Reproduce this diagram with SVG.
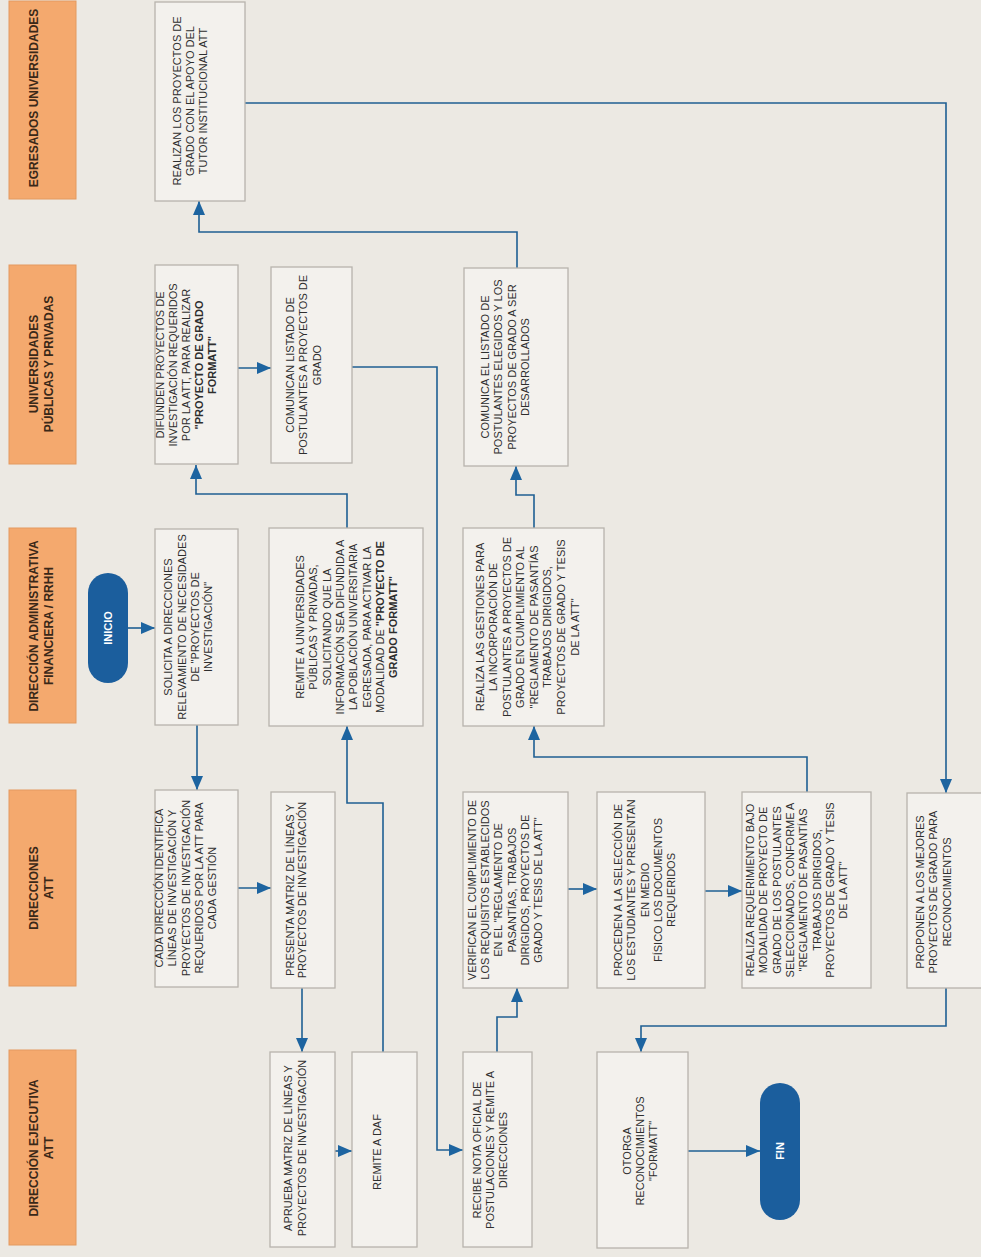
<svg xmlns="http://www.w3.org/2000/svg" width="981" height="1257" viewBox="0 0 981 1257">
<style>
.bg{fill:#ece9e3}
.box{fill:#f3f1ed;stroke:#b7b3ad;stroke-width:1.3}
.hdr{fill:#f4a96e;stroke:#e39a60;stroke-width:1}
.pill{fill:#1b5e9d}
.t{font-family:"Liberation Sans",Arial,sans-serif;font-size:11px;fill:#2e2e2e;text-anchor:middle}
.b{font-weight:bold}
.h{font-family:"Liberation Sans",Arial,sans-serif;font-size:12px;font-weight:bold;fill:#3a2818;text-anchor:middle}
.p{font-family:"Liberation Sans",Arial,sans-serif;font-size:11px;font-weight:bold;fill:#ffffff;text-anchor:middle}
.conn{fill:none;stroke:#1f5f93;stroke-width:1.6}
</style>
<defs>
<marker id="ah" markerWidth="14" markerHeight="12" refX="14" refY="6" orient="auto" markerUnits="userSpaceOnUse">
<path d="M0,0 L14,6 L0,12 z" fill="#1d64a0"/>
</marker>
</defs>
<rect class="bg" x="0" y="0" width="981" height="1257"/>

<g id="lanes">
<g id="lane-egresados"><rect class="hdr" x="9" y="1" width="67" height="198"/>
<text class="h" transform="translate(42,98) rotate(-90)"><tspan x="0" y="-4">EGRESADOS UNIVERSIDADES</tspan></text></g>
<g id="lane-universidades"><rect class="hdr" x="9" y="265" width="67" height="199"/>
<text class="h" transform="translate(42,364) rotate(-90)"><tspan x="0" y="-4">UNIVERSIDADES</tspan><tspan x="0" y="11">PÚBLICAS Y PRIVADAS</tspan></text></g>
<g id="lane-daf"><rect class="hdr" x="9" y="528" width="67" height="195"/>
<text class="h" transform="translate(42,626) rotate(-90)"><tspan x="0" y="-4">DIRECCIÓN ADMINISTRATIVA</tspan><tspan x="0" y="11">FINANCIERA / RRHH</tspan></text></g>
<g id="lane-direcciones"><rect class="hdr" x="9" y="790" width="67" height="196"/>
<text class="h" transform="translate(42,888) rotate(-90)"><tspan x="0" y="-4">DIRECCIONES</tspan><tspan x="0" y="11">ATT</tspan></text></g>
<g id="lane-ejecutiva"><rect class="hdr" x="9" y="1050" width="67" height="195"/>
<text class="h" transform="translate(42,1148) rotate(-90)"><tspan x="0" y="-4">DIRECCIÓN EJECUTIVA</tspan><tspan x="0" y="11">ATT</tspan></text></g>
</g>

<g id="connectors">
<path class="conn" d="M128,628 H155" marker-end="url(#ah)"/>
<path class="conn" d="M197,725 V790" marker-end="url(#ah)"/>
<path class="conn" d="M238,888 H271" marker-end="url(#ah)"/>
<path class="conn" d="M302,988 V1052" marker-end="url(#ah)"/>
<path class="conn" d="M335,1151 H352" marker-end="url(#ah)"/>
<path class="conn" d="M383,1052 V803 H347 V726" marker-end="url(#ah)"/>
<path class="conn" d="M347,528 V494 H196 V465" marker-end="url(#ah)"/>
<path class="conn" d="M238,368 H271" marker-end="url(#ah)"/>
<path class="conn" d="M352,367 H437 V1150 H463" marker-end="url(#ah)"/>
<path class="conn" d="M497,1052 V1017 H517 V988" marker-end="url(#ah)"/>
<path class="conn" d="M568,889 H597" marker-end="url(#ah)"/>
<path class="conn" d="M705,891 H742" marker-end="url(#ah)"/>
<path class="conn" d="M807,792 V757 H534 V726" marker-end="url(#ah)"/>
<path class="conn" d="M534,528 V495 H516 V466" marker-end="url(#ah)"/>
<path class="conn" d="M517,268 V232 H199 V201" marker-end="url(#ah)"/>
<path class="conn" d="M245,103 H946 V793" marker-end="url(#ah)"/>
<path class="conn" d="M946,988 V1026 H641 V1052" marker-end="url(#ah)"/>
<path class="conn" d="M688,1151 H760" marker-end="url(#ah)"/>
</g>

<g id="inicio"><rect class="pill" x="88" y="573" width="40" height="110" rx="20"/>
<text class="p" transform="translate(108,628) rotate(-90)"><tspan x="0" y="4">INICIO</tspan></text></g>

<g id="fin"><rect class="pill" x="760" y="1083" width="40" height="137" rx="20"/>
<text class="p" transform="translate(780,1151) rotate(-90)"><tspan x="0" y="4">FIN</tspan></text></g>

<g id="n-realizan"><rect class="box" x="155" y="2" width="90" height="199"/>
<text class="t" transform="translate(200,101) rotate(-90)"><tspan x="0" y="-19">REALIZAN LOS PROYECTOS DE</tspan><tspan x="0" y="-6">GRADO CON EL APOYO DEL</tspan><tspan x="0" y="7">TUTOR INSTITUCIONAL ATT</tspan></text></g>

<g id="n-difunden"><rect class="box" x="155" y="265" width="83" height="199"/>
<text class="t" transform="translate(196,365) rotate(-90)"><tspan x="0" y="-32">DIFUNDEN PROYECTOS DE</tspan><tspan x="0" y="-19">INVESTIGACIÓN REQUERIDOS</tspan><tspan x="0" y="-6">POR LA ATT, PARA REALIZAR</tspan><tspan x="0" y="7" class="b">"PROYECTO DE GRADO</tspan><tspan x="0" y="20" class="b">FORMATT"</tspan></text></g>

<g id="n-comunican"><rect class="box" x="271" y="267" width="81" height="196"/>
<text class="t" transform="translate(311,365) rotate(-90)"><tspan x="0" y="-17">COMUNICAN LISTADO DE</tspan><tspan x="0" y="-4">POSTULANTES A PROYECTOS DE</tspan><tspan x="0" y="10">GRADO</tspan></text></g>

<g id="n-comunica"><rect class="box" x="464" y="268" width="104" height="198"/>
<text class="t" transform="translate(516,367) rotate(-90)"><tspan x="0" y="-27">COMUNICA EL LISTADO DE</tspan><tspan x="0" y="-14">POSTULANTES ELEGIDOS Y LOS</tspan><tspan x="0" y="0">PROYECTOS DE GRADO A SER</tspan><tspan x="0" y="13">DESARROLLADOS</tspan></text></g>

<g id="n-solicita"><rect class="box" x="155" y="529" width="83" height="196"/>
<text class="t" transform="translate(196,627) rotate(-90)"><tspan x="0" y="-24">SOLICITA A DIRECCIONES</tspan><tspan x="0" y="-10">RELEVAMIENTO DE NECESIDADES</tspan><tspan x="0" y="3">DE "PROYECTOS DE</tspan><tspan x="0" y="16">INVESTIGACIÓN"</tspan></text></g>

<g id="n-remite-univ"><rect class="box" x="269" y="528" width="154" height="198"/>
<text class="t" transform="translate(346,627) rotate(-90)"><tspan x="0" y="-42">REMITE A UNIVERSIDADES</tspan><tspan x="0" y="-29">PÚBLICAS Y PRIVADAS,</tspan><tspan x="0" y="-15">SOLICITANDO QUE LA</tspan><tspan x="0" y="-2">INFORMACIÓN SEA DIFUNDIDA A</tspan><tspan x="0" y="11">LA POBLACIÓN UNIVERSITARIA</tspan><tspan x="0" y="25">EGRESADA, PARA ACTIVAR LA</tspan><tspan x="0" y="38">MODALIDAD DE <tspan class="b">"PROYECTO DE</tspan></tspan><tspan x="0" y="51" class="b">GRADO FORMATT"</tspan></text></g>

<g id="n-gestiones"><rect class="box" x="463" y="528" width="141" height="198"/>
<text class="t" transform="translate(533,627) rotate(-90)"><tspan x="0" y="-49">REALIZA LAS GESTIONES PARA</tspan><tspan x="0" y="-36">LA INCORPORACIÓN DE</tspan><tspan x="0" y="-22">POSTULANTES A PROYECTOS DE</tspan><tspan x="0" y="-9">GRADO EN CUMPLIMIENTO AL</tspan><tspan x="0" y="5">"REGLAMENTO DE PASANTÍAS</tspan><tspan x="0" y="18">TRABAJOS DIRIGIDOS,</tspan><tspan x="0" y="32">PROYECTOS DE GRADO Y TESIS</tspan><tspan x="0" y="46">DE LA ATT"</tspan></text></g>

<g id="n-identifica"><rect class="box" x="155" y="790" width="83" height="197"/>
<text class="t" transform="translate(196,888) rotate(-90)"><tspan x="0" y="-33">CADA DIRECCIÓN IDENTIFICA</tspan><tspan x="0" y="-20">LÍNEAS DE INVESTIGACIÓN Y</tspan><tspan x="0" y="-6">PROYECTOS DE INVESTIGACIÓN</tspan><tspan x="0" y="7">REQUERIDOS POR LA ATT PARA</tspan><tspan x="0" y="20">CADA GESTIÓN</tspan></text></g>

<g id="n-presenta"><rect class="box" x="271" y="792" width="64" height="196"/>
<text class="t" transform="translate(303,890) rotate(-90)"><tspan x="0" y="-9">PRESENTA MATRIZ DE LÍNEAS Y</tspan><tspan x="0" y="3">PROYECTOS DE INVESTIGACIÓN</tspan></text></g>

<g id="n-verifican"><rect class="box" x="463" y="792" width="105" height="196"/>
<text class="t" transform="translate(515,890) rotate(-90)"><tspan x="0" y="-39">VERIFICAN EL CUMPLIMIENTO DE</tspan><tspan x="0" y="-26">LOS REQUISITOS ESTABLECIDOS</tspan><tspan x="0" y="-13">EN EL "REGLAMENTO DE</tspan><tspan x="0" y="1">PASANTÍAS, TRABAJOS</tspan><tspan x="0" y="14">DIRIGIDOS, PROYECTOS DE</tspan><tspan x="0" y="27">GRADO Y TESIS DE LA ATT"</tspan></text></g>

<g id="n-proceden"><rect class="box" x="597" y="792" width="108" height="196"/>
<text class="t" transform="translate(651,890) rotate(-90)"><tspan x="0" y="-29">PROCEDEN A LA SELECCIÓN DE</tspan><tspan x="0" y="-16">LOS ESTUDIANTES Y PRESENTAN</tspan><tspan x="0" y="-2">EN MEDIO</tspan><tspan x="0" y="11">FÍSICO LOS DOCUMENTOS</tspan><tspan x="0" y="24">REQUERIDOS</tspan></text></g>

<g id="n-requerimiento"><rect class="box" x="742" y="792" width="129" height="196"/>
<text class="t" transform="translate(806,890) rotate(-90)"><tspan x="0" y="-52">REALIZA REQUERIMIENTO BAJO</tspan><tspan x="0" y="-39">MODALIDAD DE PROYECTO DE</tspan><tspan x="0" y="-25">GRADO DE LOS POSTULANTES</tspan><tspan x="0" y="-12">SELECCIONADOS, CONFORME A</tspan><tspan x="0" y="1">"REGLAMENTO DE PASANTÍAS</tspan><tspan x="0" y="15">TRABAJOS DIRIGIDOS,</tspan><tspan x="0" y="28">PROYECTOS DE GRADO Y TESIS</tspan><tspan x="0" y="41">DE LA ATT"</tspan></text></g>

<g id="n-proponen"><rect class="box" x="907" y="793" width="90" height="195"/>
<text class="t" transform="translate(907,892) rotate(-90)"><tspan x="0" y="17">PROPONEN A LOS MEJORES</tspan><tspan x="0" y="30">PROYECTOS DE GRADO PARA</tspan><tspan x="0" y="44">RECONOCIMIENTOS</tspan></text></g>

<g id="n-aprueba"><rect class="box" x="270" y="1052" width="65" height="195"/>
<text class="t" transform="translate(302,1148) rotate(-90)"><tspan x="0" y="-10">APRUEBA MATRIZ DE LÍNEAS Y</tspan><tspan x="0" y="4">PROYECTOS DE INVESTIGACIÓN</tspan></text></g>

<g id="n-remite-daf"><rect class="box" x="352" y="1052" width="65" height="195"/>
<text class="t" transform="translate(384,1152) rotate(-90)"><tspan x="0" y="-3">REMITE A DAF</tspan></text></g>

<g id="n-recibe"><rect class="box" x="463" y="1052" width="69" height="195"/>
<text class="t" transform="translate(497,1150) rotate(-90)"><tspan x="0" y="-16">RECIBE NOTA OFICIAL DE</tspan><tspan x="0" y="-3">POSTULACIONES Y REMITE A</tspan><tspan x="0" y="10">DIRECCIONES</tspan></text></g>

<g id="n-otorga"><rect class="box" x="597" y="1052" width="91" height="196"/>
<text class="t" transform="translate(642,1151) rotate(-90)"><tspan x="0" y="-11">OTORGA</tspan><tspan x="0" y="2">RECONOCIMIENTOS</tspan><tspan x="0" y="15">"FORMATT"</tspan></text></g>
</svg>
